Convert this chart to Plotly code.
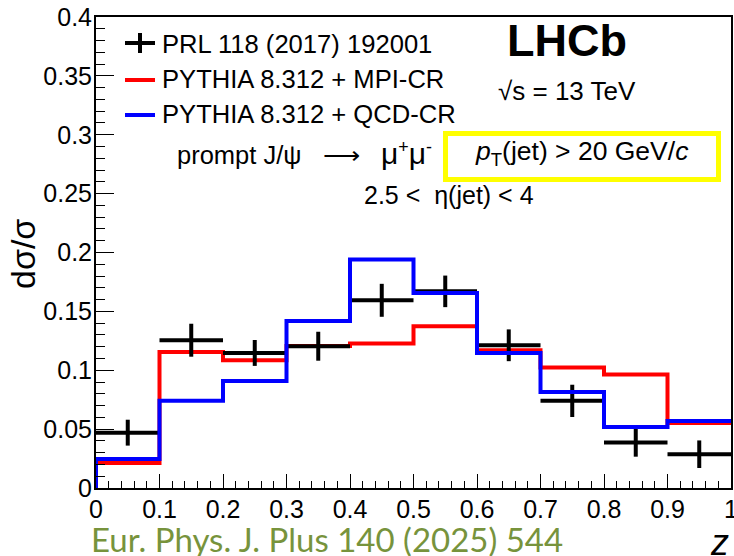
import plotly.graph_objects as go

# ---------------- data ----------------
bin_edges = [0.0, 0.1, 0.2, 0.3, 0.4, 0.5, 0.6, 0.7, 0.8, 0.9, 1.0]
z_centers = [0.05, 0.15, 0.25, 0.35, 0.45, 0.55, 0.65, 0.75, 0.85, 0.95]
bin_halfwidth = 0.05
lhcb_vals = [0.047, 0.1255, 0.1147, 0.1204, 0.1594, 0.167, 0.1212, 0.074, 0.0386, 0.0287]
lhcb_errs = [0.011, 0.014, 0.011, 0.0123, 0.014, 0.0134, 0.0135, 0.0137, 0.012, 0.0117]
mpi_cr = [0.0213, 0.1155, 0.1085, 0.1206, 0.1227, 0.1374, 0.117, 0.1023, 0.0963, 0.0553]
qcd_cr = [0.0247, 0.074, 0.0909, 0.1419, 0.194, 0.1656, 0.1147, 0.0816, 0.0519, 0.057]

legend_labels = ["PRL 118 (2017) 192001", "PYTHIA 8.312 + MPI-CR", "PYTHIA 8.312 + QCD-CR"]

FONT = "Liberation Sans, Arial, Helvetica, sans-serif"

# ---------------- layout geometry (pixels) ----------------
W, H = 734, 556
L, R, T, B = 96, 731, 17, 488


def px(x):
    return (x - L) / (R - L)


def py(y):
    return (B - y) / (B - T)


def step_xy(vals):
    xs = [bin_edges[0]] + list(bin_edges)
    ys = [0.0] + list(vals) + [vals[-1]]
    return xs, ys


fig = go.Figure()

xr, yr = step_xy(mpi_cr)
fig.add_trace(go.Scatter(x=xr, y=yr, mode="lines", line=dict(color="#FF0000", width=4, shape="hv"),
                         name=legend_labels[1], showlegend=False))

fig.add_trace(go.Scatter(
    x=z_centers, y=lhcb_vals, mode="markers", name=legend_labels[0], showlegend=False,
    marker=dict(size=1, color="black"),
    error_x=dict(type="constant", value=bin_halfwidth, thickness=4, width=0, color="black"),
    error_y=dict(type="data", array=lhcb_errs, thickness=4, width=0, color="black"),
))

xb, yb = step_xy(qcd_cr)
fig.add_trace(go.Scatter(x=xb, y=yb, mode="lines", line=dict(color="#0000FF", width=4, shape="hv"),
                         name=legend_labels[2], showlegend=False))

shapes = []
annotations = []

# manual legend
leg_rows = [44, 79.5, 114.5]
shapes.append(dict(type="line", xref="paper", yref="paper", x0=px(125), x1=px(155), y0=py(43), y1=py(43),
                   line=dict(color="black", width=4)))
shapes.append(dict(type="line", xref="paper", yref="paper", x0=px(140), x1=px(140), y0=py(33), y1=py(53),
                   line=dict(color="black", width=4)))
shapes.append(dict(type="line", xref="paper", yref="paper", x0=px(125), x1=px(155), y0=py(80), y1=py(80),
                   line=dict(color="#FF0000", width=4)))
shapes.append(dict(type="line", xref="paper", yref="paper", x0=px(125), x1=px(155), y0=py(115), y1=py(115),
                   line=dict(color="#0000FF", width=4)))
for lab, yy in zip(legend_labels, leg_rows):
    annotations.append(dict(text=lab, xref="paper", yref="paper", x=px(160), y=py(yy),
                            xanchor="left", yanchor="middle", showarrow=False,
                            font=dict(family=FONT, size=25.6, color="black")))

# yellow box
shapes.append(dict(type="rect", xref="paper", yref="paper", x0=px(445.5), x1=px(718.5), y0=py(179.5), y1=py(133.5),
                   line=dict(color="#FFFF00", width=5), fillcolor="rgba(0,0,0,0)"))


def ann(text, x, y, size=25, xanchor="center", yanchor="middle", color="black", family=FONT, angle=0):
    annotations.append(dict(text=text, xref="paper", yref="paper", x=px(x), y=py(y), xanchor=xanchor,
                            yanchor=yanchor, showarrow=False, textangle=angle,
                            font=dict(family=family, size=size, color=color)))


ann("<b>LHCb</b>", 567, 41, size=45)
ann("\u221as = 13 TeV", 567, 91, size=26)
ann("prompt J/\u03c8\u00a0\u00a0\u00a0\u27f6\u00a0\u00a0\u00a0"
    "<span style='font-size:30px'>\u03bc</span><sup>+</sup>"
    "<span style='font-size:30px'>\u03bc</span><sup>-</sup>", 175, 153,
    size=25.5, xanchor="left")
ann("<i>p</i><sub>T</sub>(jet) &gt; 20 GeV/<i>c</i>", 581, 153, size=26.5)
ann("2.5 &lt;\u00a0\u00a0\u03b7(jet) &lt; 4", 362, 195, size=25, xanchor="left")

# axis titles
ann("d\u03c3/\u03c3", 23, 254, size=34, angle=-90)
ann("<i>z</i>", 731, 542, size=36, xanchor="right")

# source
ann("Eur. Phys. J. Plus 140 (2025) 544", 89, 539, size=33, xanchor="left", color="#77933C",
    family="Lato, Carlito, Calibri, sans-serif")

axis_common = dict(showline=True, linewidth=2, linecolor="black", mirror=True, showgrid=False,
                   zeroline=False, ticks="inside", tickcolor="black", tickwidth=1,
                   ticklabeloverflow="allow",
                   tickfont=dict(family=FONT, size=25, color="black"))

fig.update_layout(
    width=W, height=H,
    margin=dict(l=L, r=W - R, t=T, b=H - B, autoexpand=False),
    paper_bgcolor="white", plot_bgcolor="white",
    showlegend=False,
    shapes=shapes, annotations=annotations,
    xaxis=dict(range=[0, 1], tick0=0, dtick=0.1, ticklen=14, ticklabelstandoff=-2,
               minor=dict(dtick=0.02, ticklen=7, ticks="inside", tickcolor="black", tickwidth=1),
               **axis_common),
    yaxis=dict(range=[0, 0.4], tick0=0, dtick=0.05, ticklen=18, ticklabelstandoff=-3,
               minor=dict(dtick=0.01, ticklen=9, ticks="inside", tickcolor="black", tickwidth=1),
               **axis_common),
)

fig.write_html("out.html")
